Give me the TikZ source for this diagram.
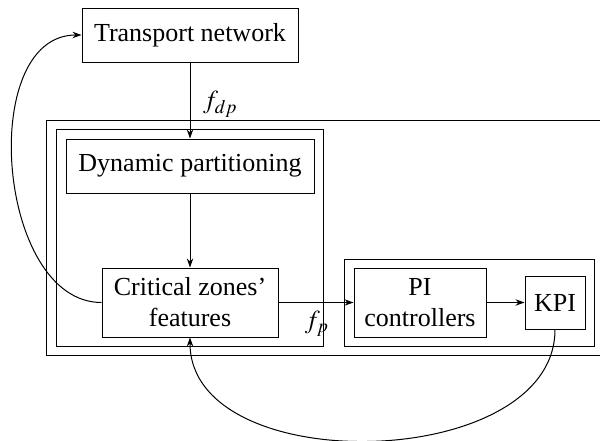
\documentclass[tikz,border=0pt]{standalone}
\usepackage{mathptmx}
\usepackage{fontspec}
\setmainfont{Liberation Serif}
\newfontfamily\tms{Liberation Serif}
\usetikzlibrary{arrows.meta}
\begin{document}
\begin{tikzpicture}[x=0.5pt,y=-0.5pt,
  every node/.style={font=\tms\fontsize{13}{15.5}\selectfont},
  blk/.style={draw,rectangle,inner sep=0pt,align=center,line width=0.5pt},
  frame/.style={draw,line width=0.5pt},
  conn/.style={line width=0.5pt,-{Stealth[length=4.5pt,width=3.2pt]}}]
\useasboundingbox (0,0) rectangle (600,440);
\clip (0,0) rectangle (600,440);
% frames
\draw[frame] (46,120) rectangle (620,355);
\draw[frame] (56,129) rectangle (323,346);
\draw[frame] (344,259) rectangle (594,346);
% blocks
\node[blk,minimum width=216pt*0.5,minimum height=54pt*0.5] (tn) at (190,35) {Transport network};
\node[blk,minimum width=248pt*0.5,minimum height=54pt*0.5] (dp) at (190,166) {Dynamic partitioning};
\node[blk,minimum width=176pt*0.5,minimum height=69pt*0.5] (cz) at (190,302.5) {Critical zones’\\features};
\node[blk,minimum width=132pt*0.5,minimum height=69pt*0.5] (pi) at (420,302.5) {PI\\controllers};
\node[blk,minimum width=60pt*0.5,minimum height=53pt*0.5] (kpi) at (555,302.5) {KPI};
% connectors
\draw[conn] (tn) -- node[right,pos=0.55,xshift=3pt] {$f_{dp}$} (dp);
\draw[conn] (dp) -- (cz);
\draw[conn] (cz) -- (pi);
\node (fp) at (317,324) {$f_p$};
\draw[conn] (pi) -- (kpi);
\draw[conn] (cz.west) to[out=180,in=180] (tn.west);
\draw[conn] (kpi.south) to[out=-90,in=-90] (cz.south);
\end{tikzpicture}
\end{document}
